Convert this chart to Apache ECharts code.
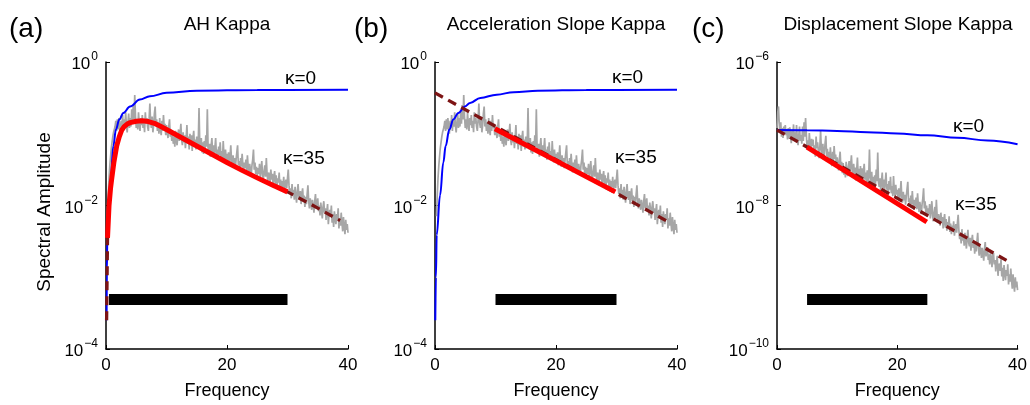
<!DOCTYPE html>
<html>
<head>
<meta charset="utf-8">
<script src="https://cdn.jsdelivr.net/npm/echarts@6/dist/echarts.min.js"></script>
<style>
html,body{margin:0;padding:0;background:#fff;}
#chart{width:1030px;height:405px;}
</style>
</head>
<body>
<div id="chart"></div>
<script>
// ---------- DATA (amplitudes stored as log10 values) ----------
const panelTitles = ['AH Kappa', 'Acceleration Slope Kappa', 'Displacement Slope Kappa'];
const panelLetters = ['(a)', '(b)', '(c)'];
const yAxisTitle = 'Spectral Amplitude';
const xAxisTitle = 'Frequency';
const xTicks = [0, 20, 40];
const yRangesLog = [[-4, 0], [-4, 0], [-10, -6]];

// observed acceleration spectrum (panels a and b): regular frequency grid
const accFreqStart = 0.25, accFreqStep = 0.125;
const accObsLog = [
 -2.15,-1.85,-1.62,-1.45,-1.32,-1.20,-1.12,-1.04,-0.98,-0.94,
 -0.90,-0.82,-0.96,-0.80,
 -0.94,-0.78,-0.90,-1.00,-0.82,-0.92,-0.74,-0.96,
 -0.80,-0.90,-0.70,-0.88,-0.98,-0.84,-0.72,-0.92,
 -0.78,-0.90,-0.66,-0.86,-0.60,-0.80,-0.46,-0.76,
 -0.92,-0.80,-0.94,-0.70,-0.86,-0.96,-0.78,-0.88,
 -0.74,-0.92,-0.82,-0.98,-0.70,-0.86,-0.78,-0.90,
 -0.96,-0.80,-0.58,-0.84,-0.92,-0.76,-0.98,-0.88,
 -0.72,-0.62,-0.90,-0.80,-0.96,-0.84,-1.00,-0.78,
 -0.94,-1.02,-0.82,-0.96,-0.74,-0.92,-0.86,-1.02,
 -0.88,-0.98,-1.06,-0.90,-0.80,-1.04,-0.94,-1.10,
 -0.98,-1.14,-1.04,-1.18,-0.96,-1.10,-1.16,-1.02,
 -0.94,-1.10,-1.00,-0.86,-1.08,-1.16,-0.98,-1.12,
 -1.02,-1.20,-1.06,-0.88,-1.14,-1.04,-1.22,-1.00,
 -1.16,-1.02,-1.24,-1.06,-0.96,-1.18,-1.08,-1.22,
 -1.04,-1.20,-1.12,-0.64,-1.14,-1.22,-1.06,-1.26,
 -1.12,-1.28,-1.10,-1.22,-1.02,-1.18,-0.66,-1.20,
 -1.26,-1.14,-1.32,-1.18,-1.06,-1.28,-1.16,-1.30,
 -1.20,-1.06,-1.30,-1.22,-1.36,-1.18,-1.30,-1.12,
 -1.34,-1.24,-1.38,-1.10,-1.30,-1.40,-1.22,-1.36,
 -1.28,-1.40,-1.26,-1.44,-1.32,-1.16,-1.38,-1.46,
 -1.30,-1.42,-1.34,-1.48,-1.36,-1.26,-1.16,-1.44,
 -1.38,-1.50,-1.34,-1.46,-1.28,-1.44,-1.54,-1.40,
 -1.48,-1.36,-1.52,-1.30,-1.46,-1.56,-1.42,-1.50,
 -1.58,-1.44,-1.36,-1.22,-1.50,-1.40,-1.56,-1.46,
 -1.60,-1.48,-1.56,-1.42,-1.62,-1.50,-1.38,-1.58,
 -1.64,-1.52,-1.44,-1.60,-1.34,-1.56,-1.66,-1.54,
 -1.58,-1.68,-1.50,-1.64,-1.56,-1.72,-1.60,-1.52,
 -1.70,-1.58,-1.74,-1.62,-1.68,-1.54,-1.76,-1.64,
 -1.78,-1.66,-1.74,-1.60,-1.80,-1.70,-1.64,-1.76,
 -1.62,-1.50,-1.72,-1.84,-1.76,-1.90,-1.70,-1.86,
 -1.78,-1.92,-1.74,-1.86,-1.96,-1.80,-1.70,-1.88,
 -1.92,-1.80,-1.98,-1.84,-1.76,-1.94,-1.86,-2.02,
 -1.88,-1.98,-1.84,-1.72,-1.94,-2.04,-1.90,-1.96,
 -2.06,-1.92,-2.00,-2.10,-1.94,-1.84,-2.04,-1.98,
 -1.90,-2.08,-2.00,-2.14,-1.96,-2.06,-2.18,-2.02,
 -1.94,-2.10,-2.04,-2.20,-2.08,-1.98,-2.26,-2.12,
 -2.06,-2.16,-2.00,-2.24,-2.12,-2.30,-2.08,-2.18,
 -2.26,-2.12,-2.20,-2.04,-2.32,-2.18,-2.28,-2.10,
 -2.24,-2.36,-2.16,-2.30,-2.40,-2.20,-2.34,-2.26,
 -2.38
];

// observed displacement spectrum (panel c)
const dispFreqStart = 0, dispFreqStep = 0.125;
const dispObsLog = [
 -6.92,-6.70,-6.62,-6.86,-6.98,-6.84,-7.04,-6.92,-7.06,-6.90,-7.00,-6.88,
 -7.02,-6.94,-7.08,-6.92,
 -7.07,-6.91,-7.03,-7.13,-6.95,-7.05,-6.87,-7.09,
 -6.98,-7.08,-6.88,-7.06,-7.16,-7.02,-6.90,-7.10,
 -7.02,-7.14,-6.90,-7.10,-6.84,-7.04,-6.78,-7.00,
 -7.21,-7.09,-7.23,-6.99,-7.15,-7.25,-7.07,-7.17,
 -7.08,-7.26,-7.16,-7.32,-7.04,-7.20,-7.12,-7.24,
 -7.34,-7.18,-6.96,-7.22,-7.30,-7.14,-7.36,-7.26,
 -7.13,-7.03,-7.31,-7.21,-7.37,-7.25,-7.41,-7.19,
 -7.37,-7.45,-7.25,-7.39,-7.17,-7.35,-7.29,-7.45,
 -7.33,-7.43,-7.51,-7.35,-7.25,-7.49,-7.39,-7.55,
 -7.41,-7.57,-7.47,-7.61,-7.39,-7.53,-7.59,-7.45,
 -7.38,-7.54,-7.44,-7.30,-7.52,-7.60,-7.42,-7.56,
 -7.47,-7.65,-7.51,-7.33,-7.59,-7.49,-7.67,-7.45,
 -7.62,-7.48,-7.70,-7.52,-7.42,-7.64,-7.54,-7.68,
 -7.51,-7.67,-7.59,-7.22,-7.61,-7.69,-7.53,-7.73,
 -7.60,-7.76,-7.58,-7.70,-7.50,-7.66,-7.26,-7.68,
 -7.74,-7.62,-7.80,-7.66,-7.54,-7.76,-7.64,-7.78,
 -7.68,-7.54,-7.78,-7.70,-7.84,-7.66,-7.78,-7.60,
 -7.83,-7.73,-7.87,-7.59,-7.79,-7.89,-7.71,-7.85,
 -7.78,-7.90,-7.76,-7.94,-7.82,-7.66,-7.88,-7.96,
 -7.81,-7.93,-7.85,-7.99,-7.87,-7.77,-7.67,-7.95,
 -7.90,-8.02,-7.86,-7.98,-7.80,-7.96,-8.06,-7.92,
 -8.01,-7.89,-8.05,-7.83,-7.99,-8.09,-7.95,-8.03,
 -8.12,-7.98,-7.90,-7.76,-8.04,-7.94,-8.10,-8.00,
 -8.16,-8.04,-8.12,-7.98,-8.18,-8.06,-7.94,-8.14,
 -8.22,-8.10,-8.02,-8.18,-7.92,-8.14,-8.24,-8.12,
 -8.18,-8.28,-8.10,-8.24,-8.16,-8.32,-8.20,-8.12,
 -8.31,-8.19,-8.35,-8.23,-8.29,-8.15,-8.37,-8.25,
 -8.40,-8.28,-8.36,-8.22,-8.42,-8.32,-8.26,-8.38,
 -8.25,-8.13,-8.35,-8.47,-8.39,-8.53,-8.33,-8.49,
 -8.42,-8.56,-8.38,-8.50,-8.60,-8.44,-8.34,-8.52,
 -8.57,-8.45,-8.63,-8.49,-8.41,-8.59,-8.51,-8.67,
 -8.54,-8.64,-8.50,-8.38,-8.60,-8.70,-8.56,-8.62,
 -8.73,-8.59,-8.67,-8.77,-8.61,-8.51,-8.71,-8.65,
 -8.58,-8.76,-8.68,-8.82,-8.64,-8.74,-8.86,-8.70,
 -8.66,-8.82,-8.76,-8.92,-8.80,-8.70,-8.98,-8.84,
 -8.81,-8.91,-8.75,-8.99,-8.87,-9.05,-8.83,-8.93,
 -9.04,-8.90,-8.98,-8.82,-9.10,-8.96,-9.06,-8.88,
 -9.04,-9.16,-8.96,-9.10,-9.20,-9.00,-9.14,-9.06,
 -9.18
];

// kappa = 0 source model curves
const k0FreqA = [0.1, 0.15, 0.22, 0.4, 0.77, 1.21, 1.65, 2.2, 2.87, 3.97, 5.6, 7.27, 10, 15, 25, 40];
const k0LogA  = [-3.6, -2.9, -2.41, -2.0, -1.63, -1.17, -0.94, -0.80, -0.71, -0.62, -0.524, -0.478, -0.43, -0.40, -0.39, -0.386];
const k0FreqB = [0.05, 0.15, 0.28, 0.83, 1.38, 1.76, 2.37, 3.03, 3.86, 4.96, 5.8, 7.5, 10.2, 13, 17, 25, 40];
const k0LogB  = [-3.6, -3.0, -2.41, -1.86, -1.40, -1.17, -0.94, -0.80, -0.71, -0.62, -0.57, -0.50, -0.455, -0.42, -0.40, -0.39, -0.386];
const k0FreqC = [0, 5, 10, 15, 20, 25, 30, 35, 40];
const k0LogC  = [-6.947, -6.95, -6.962, -6.978, -6.997, -7.022, -7.055, -7.095, -7.145];

// kappa = 35 model (dashed) and fitted part (solid red)
const k35FreqA = [0.1, 0.25, 0.5, 0.75, 0.94, 1.3, 1.77, 2.2, 2.6, 3.0, 3.5, 4, 5, 6, 7, 8, 9, 10, 12.5, 15, 17.5, 20, 22.5, 25, 27.5, 30, 34, 38.7];
const k35LogA  = [-3.6, -2.45, -2.0, -1.76, -1.63, -1.4, -1.17, -1.04, -0.95, -0.90, -0.865, -0.845, -0.825, -0.82, -0.83, -0.855, -0.895, -0.94, -1.055, -1.17, -1.285, -1.40, -1.51, -1.615, -1.715, -1.81, -1.99, -2.21];
const fitFreqA = [0.25, 30];
const k35FreqB = [0, 38.6];
const k35LogB  = [-0.43, -2.23];
const fitFreqB = [9.9, 29.8];
const fitLogB  = [-0.93, -1.81];
const k35FreqC = [0, 38.6];
const k35LogC  = [-6.947, -8.786];
const fitFreqC = [5, 24.9];
const fitLogC  = [-7.185, -8.23];

// fitting frequency bands (black bars) and their vertical level
const bandRanges = [[0.5, 30], [10, 30], [5, 25]];
const bandLevelLog = [-3.31, -3.31, -9.31];

// annotation labels
const kappaLabels = ['κ=0', 'κ=35'];

// ---------- BUILD ----------
const FONT = '"Liberation Sans", Arial, Helvetica, sans-serif';
const pw = v => Math.pow(10, v);
function pairs(fs, ls) { return fs.map((f, i) => [f, pw(ls[i])]); }
function grid(start, step, ls) { return ls.map((v, i) => [start + i * step, pw(v)]); }

const obsA = grid(accFreqStart, accFreqStep, accObsLog);
const obsC = grid(dispFreqStart, dispFreqStep, dispObsLog);
const modelA = pairs(k35FreqA, k35LogA);
const fitA = modelA.filter(p => p[0] >= fitFreqA[0] && p[0] <= fitFreqA[1]);

const lefts = [106, 435, 777];
const gridW = 242, gridTop = 62, gridH = 290;

const grids = lefts.map(l => ({left: l, top: gridTop, width: gridW, height: gridH}));

function supLabel(v) {
  const e = Math.round(Math.log10(v));
  return '{b|10}{s|' + (e < 0 ? '\u2212' + (-e) : e) + '}';
}

const xAxes = [0,1,2].map(i => ({
  type: 'value', gridIndex: i, min: xTicks[0], max: xTicks[2], interval: xTicks[1] - xTicks[0],
  name: xAxisTitle, nameLocation: 'middle', nameGap: 33,
  nameTextStyle: {fontFamily: FONT, fontSize: 18, color: '#000'},
  axisLine: {show: true, lineStyle: {color: '#000', width: 1.5}},
  axisTick: {show: true, inside: true, length: 4, lineStyle: {color: '#000', width: 1}},
  axisLabel: {fontFamily: FONT, fontSize: 17, color: '#000', margin: 8},
  splitLine: {show: false}
}));

const yAxes = [0,1,2].map(i => ({
  type: 'log', logBase: 10, gridIndex: i,
  min: pw(yRangesLog[i][0]), max: pw(yRangesLog[i][1]), interval: 2,
  axisLine: {show: true, lineStyle: {color: '#000', width: 1.5}},
  axisTick: {show: true, inside: true, length: 4, lineStyle: {color: '#000', width: 1}},
  axisLabel: {
    margin: 8, formatter: supLabel,
    rich: {
      b: {fontFamily: FONT, fontSize: 17, color: '#000', lineHeight: 22, verticalAlign: 'bottom'},
      s: {fontFamily: FONT, fontSize: 12, color: '#000', lineHeight: 22, verticalAlign: 'top', padding: [0,0,0,1]}
    }
  },
  splitLine: {show: false}
}));

function lineSeries(idx, data, color, width, extra) {
  return Object.assign({
    type: 'line', xAxisIndex: idx, yAxisIndex: idx, data: data,
    showSymbol: false, symbol: 'none', animation: false, silent: true,
    lineStyle: {color: color, width: width}
  }, extra || {});
}

const GRAY = '#a6a6a6', BLUE = '#0000ff', RED = '#ff0000', DRED = '#7d1414';
const dashStyle = (w) => ({color: DRED, width: w, type: [9, 6]});

const series = [];
const obsSets = [obsA, obsA, obsC];
const k0Sets = [pairs(k0FreqA, k0LogA), pairs(k0FreqB, k0LogB), pairs(k0FreqC, k0LogC)];
const k35Sets = [modelA, pairs(k35FreqB, k35LogB), pairs(k35FreqC, k35LogC)];
const fitSets = [fitA, pairs(fitFreqB, fitLogB), pairs(fitFreqC, fitLogC)];

for (let i = 0; i < 3; i++) {
  series.push(lineSeries(i, obsSets[i], GRAY, 1.7));
  series.push(lineSeries(i, k0Sets[i], BLUE, 2, {smooth: 0.4, smoothMonotone: 'x'}));
  series.push(lineSeries(i, k35Sets[i], DRED, 3.3, {lineStyle: dashStyle(3.3)}));
  series.push(lineSeries(i, fitSets[i], RED, 5, {lineStyle: {color: RED, width: 5, join: 'round'}}));
  series.push(lineSeries(i, bandRanges[i].map(f => [f, pw(bandLevelLog[i])]), '#000', 11,
    {lineStyle: {color: '#000', width: 11, cap: 'butt'}}));
}

const titleX = lefts.map(l => l + gridW / 2);
const letterX = [9, 354, 692];
const kappaPos = [
  [[285, 79], [283, 159]],
  [[612, 78], [615, 158]],
  [[953, 127], [955, 205]]
];

const graphics = [];
for (let i = 0; i < 3; i++) {
  graphics.push({type: 'text', x: titleX[i], y: 25, silent: true,
    style: {text: panelTitles[i], font: '19px ' + FONT, fill: '#000', textAlign: 'center', textVerticalAlign: 'middle'}});
  graphics.push({type: 'text', x: letterX[i], y: 29, silent: true,
    style: {text: panelLetters[i], font: '28px ' + FONT, fill: '#000', textAlign: 'left', textVerticalAlign: 'middle'}});
  for (let k = 0; k < 2; k++) {
    graphics.push({type: 'text', x: kappaPos[i][k][0], y: kappaPos[i][k][1], silent: true,
      style: {text: kappaLabels[k], font: '19px ' + FONT, fill: '#000', textAlign: 'left', textVerticalAlign: 'middle'}});
  }
}
// y-axis title of panel (a)
graphics.push({type: 'text', x: 45, y: 212, rotation: Math.PI / 2, silent: true,
  style: {text: yAxisTitle, font: '19px ' + FONT, fill: '#000', textAlign: 'center', textVerticalAlign: 'middle'}});

const chart = echarts.init(document.getElementById('chart'), null, {renderer: 'canvas'});
chart.setOption({
  backgroundColor: '#fff',
  animation: false,
  grid: grids,
  xAxis: xAxes,
  yAxis: yAxes,
  series: series,
  graphic: graphics
});
</script>
</body>
</html>
